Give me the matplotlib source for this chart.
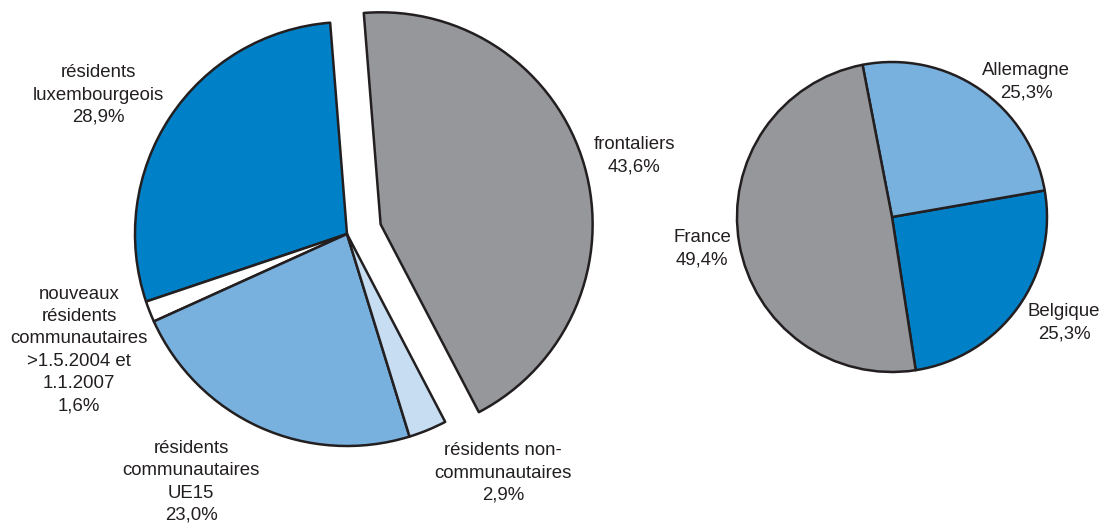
import matplotlib.pyplot as plt

plt.rcParams['font.family'] = ['Liberation Sans', 'DejaVu Sans']

# left pie: employment by origin (%), drawn counterclockwise from frontaliers
left_names = ['frontaliers', 'résidents\nluxembourgeois',
              'nouveaux\nrésidents\ncommunautaires\n>1.5.2004 et\n1.1.2007',
              'résidents\ncommunautaires\nUE15', 'résidents non-\ncommunautaires']
left_values = [43.6, 28.9, 1.6, 23.0, 2.9]
left_colors = ['#96979b', '#0080c6', '#ffffff', '#78b1de', '#c6ddf2']

# right pie: cross-border workers by country (%)
right_names = ['Belgique', 'Allemagne', 'France']
right_values = [25.3, 25.3, 49.4]
right_colors = ['#0080c6', '#78b1de', '#96979b']

W, H = 1102, 524
fig = plt.figure(figsize=(W / 100, H / 100), dpi=100)
ax = fig.add_axes([0, 0, 1, 1])

wp = dict(edgecolor='#231f20', linewidth=1.8, joinstyle='round')
# explode offset is in data units (pixels here)
ax.pie(left_values, colors=left_colors, center=(347, H - 234), radius=212,
       startangle=-62.4, counterclock=True, explode=[35, 0, 0, 0, 0],
       wedgeprops=wp, frame=True)
ax.pie(right_values, colors=right_colors, center=(892, H - 217), radius=155,
       startangle=-81.2, counterclock=True, wedgeprops=wp, frame=True)


def pct(v):
    return f'{v:.1f}%'.replace('.', ',')


# label positions in pixels (x, y from top)
left_pos = [(634, 156), (98, 95), (79, 350), (191, 482), (503, 473)]
right_pos = [(1064, 323), (1026, 82), (702, 249)]

for names, values, pos in [(left_names, left_values, left_pos),
                           (right_names, right_values, right_pos)]:
    for n, v, (x, y) in zip(names, values, pos):
        ax.text(x, H - y, n + '\n' + pct(v), ha='center', va='center',
                fontsize=13.4, linespacing=1.41, color='#231f20')

ax.set_xlim(0, W)
ax.set_ylim(0, H)
ax.set_aspect('equal')
ax.axis('off')

plt.savefig('out.png', dpi=100)
